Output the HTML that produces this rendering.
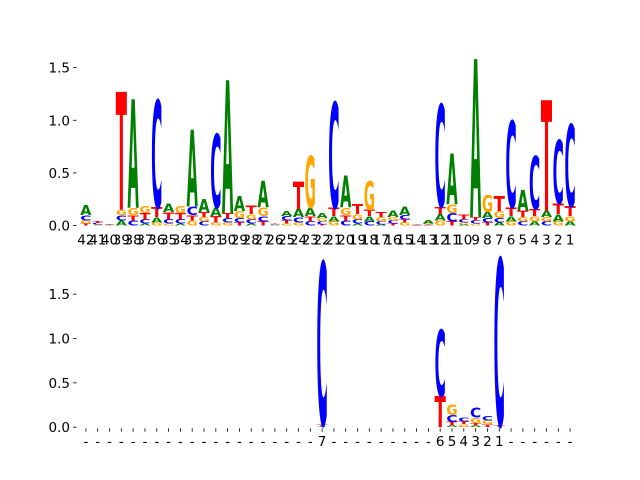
<!DOCTYPE html>
<html><head><meta charset="utf-8"><style>
html,body{margin:0;padding:0;background:#fff;}
svg{display:block;font-family:"DejaVu Sans","Liberation Sans",sans-serif;}
</style></head><body>
<svg id="chart" width="640" height="480" viewBox="0 0 640 480">
<g id="top"></g>
<g id="bottom"></g>
</svg>
<script>
// ---- top panel data (columns left to right) ----
const topLabels = ["42","41","40","39","38","37","36","35","34","33","32","31","30","29","28","27","26","25","24","23","22","21","20","19","18","17","16","15","14","13","12","11","10","9","8","7","6","5","4","3","2","1"];
const topA = [.09,.005,.003,.05,1.03,.02,.05,.08,.02,.73,.12,.08,1.26,.14,.02,.25,.005,.05,.08,.08,.05,.05,.30,.02,.05,.01,.06,.08,.003,.03,.06,.48,.01,1.5,.06,.03,.05,.2,.04,.06,.07,.04];
const topC = [.05,.015,.004,.05,.05,.04,1.02,.04,.04,.08,.04,.7,.04,.04,.04,.05,.005,.04,.05,.04,.03,1.0,.05,.04,.04,.03,.03,.04,.003,.005,.97,.08,.03,.03,.04,.04,.82,.04,.5,.04,.6,.78];
const topG = [.03,.005,.003,.05,.07,.07,.03,.02,.07,.05,.04,.03,.03,.07,.05,.08,.005,.02,.03,.49,.03,.04,.07,.05,.27,.04,.03,.03,.003,.01,.05,.08,.02,.02,.16,.07,.04,.04,.05,.04,.04,.05];
const topT = [.02,.015,.003,1.12,.05,.06,.09,.07,.06,.05,.05,.06,.05,.03,.08,.04,.005,.03,.26,.05,.01,.08,.05,.09,.06,.05,.02,.03,.006,.005,.07,.04,.05,.03,.03,.14,.08,.06,.07,1.05,.1,.09];
const topTicks = [0, 0.5, 1.0, 1.5];
// ---- bottom panel data ----
const botLabels = ["-","-","-","-","-","-","-","-","-","-","-","-","-","-","-","-","-","-","-","-","7","-","-","-","-","-","-","-","-","-","6","5","4","3","2","1","-","-","-","-","-","-"];
const botA = [0,0,0,0,0,0,0,0,0,0,0,0,0,0,0,0,0,0,0,0,.01,0,0,0,0,0,0,0,0,0,0,.02,.005,.02,.005,0,0,0,0,0,0,0];
const botC = [0,0,0,0,0,0,0,0,0,0,0,0,0,0,0,0,0,0,0,0,1.83,0,0,0,0,0,0,0,0,0,.75,.08,.04,.11,.05,1.88,0,0,0,0,0,0];
const botG = [0,0,0,0,0,0,0,0,0,0,0,0,0,0,0,0,0,0,0,0,0,0,0,0,0,0,0,0,0,0,0,.12,.03,.06,.04,0,0,0,0,0,0,0];
const botT = [0,0,0,0,0,0,0,0,0,0,0,0,0,0,0,0,0,0,0,0,.02,0,0,0,0,0,0,0,0,0,.35,.04,.03,.03,.03,.02,0,0,0,0,0,0];
const botTicks = [0, 0.5, 1.0, 1.5];

const NS = "http://www.w3.org/2000/svg";
const COLORS = {A:"#008000", C:"#0000ff", G:"#ffa500", T:"#ff0000"};

function drawPanel(g, cfg){
  const n = cfg.labels.length;
  const left = 80, right = 576;
  const cw = (right-left)/n;
  const xs = i => left + (i+0.5)*cw;
  const ys = v => cfg.y0 - (v/cfg.ymax)*(cfg.y0-cfg.y1);
  // y axis ticks
  cfg.ticks.forEach(t=>{
    const y = ys(t);
    const ln = document.createElementNS(NS,"line");
    ln.setAttribute("x1",left-7); ln.setAttribute("x2",left-3.5);
    ln.setAttribute("y1",y); ln.setAttribute("y2",y);
    ln.setAttribute("stroke","#000"); ln.setAttribute("stroke-width","0.8");
    
    
    g.appendChild(ln);
    const tx = document.createElementNS(NS,"text");
    tx.setAttribute("x",left-10); tx.setAttribute("y",y+5);
    tx.setAttribute("text-anchor","end"); tx.setAttribute("font-size","13.5");
    tx.textContent = t.toFixed(1);
    
    
    g.appendChild(tx);
  });
  // columns
  for(let i=0;i<n;i++){
    const x = xs(i);
    if(cfg.xticks){
      const tk = document.createElementNS(NS,"line");
      tk.setAttribute("x1",x); tk.setAttribute("x2",x);
      tk.setAttribute("y1",cfg.y0+1); tk.setAttribute("y2",cfg.y0+4.5);
      tk.setAttribute("stroke","#000"); tk.setAttribute("stroke-width","0.8");
      
      
      g.appendChild(tk);
    }
    const lab = document.createElementNS(NS,"text");
    lab.setAttribute("x",x); lab.setAttribute("y",cfg.y0+19);
    lab.setAttribute("text-anchor","middle"); lab.setAttribute("font-size","13.5");
    lab.textContent = cfg.labels[i];
    
    
    g.appendChild(lab);
    const stack = [["A",cfg.A[i]],["C",cfg.C[i]],["G",cfg.G[i]],["T",cfg.T[i]]]
      .filter(d=>d[1]>0).sort((a,b)=>a[1]-b[1]);
    let base = 0;
    const w = cw*0.95;
    stack.forEach(([L,h])=>{
      const yb = ys(base), yt = ys(base+h);
      const hp = yb-yt;
      const t = document.createElementNS(NS,"text");
      t.setAttribute("x","0"); t.setAttribute("y","0");
      t.setAttribute("font-size","10"); t.setAttribute("font-weight","bold");
      t.setAttribute("textLength", w.toFixed(2));
      t.setAttribute("lengthAdjust","spacingAndGlyphs");
      t.setAttribute("fill",COLORS[L]);
      t.setAttribute("transform",`translate(${(x-w/2).toFixed(2)},${yb.toFixed(2)}) scale(1,${(hp/7.29).toFixed(4)})`);
      t.textContent = L;
      
      
      g.appendChild(t);
      base += h;
    });
  }
}
drawPanel(document.getElementById("top"), {labels:topLabels,A:topA,C:topC,G:topG,T:topT,ticks:topTicks,y0:225.6,y1:57.6,ymax:1.595,xticks:false});
drawPanel(document.getElementById("bottom"), {labels:botLabels,A:botA,C:botC,G:botG,T:botT,ticks:botTicks,y0:427.2,y1:259.2,ymax:1.894,xticks:true});
</script>
</body></html>
